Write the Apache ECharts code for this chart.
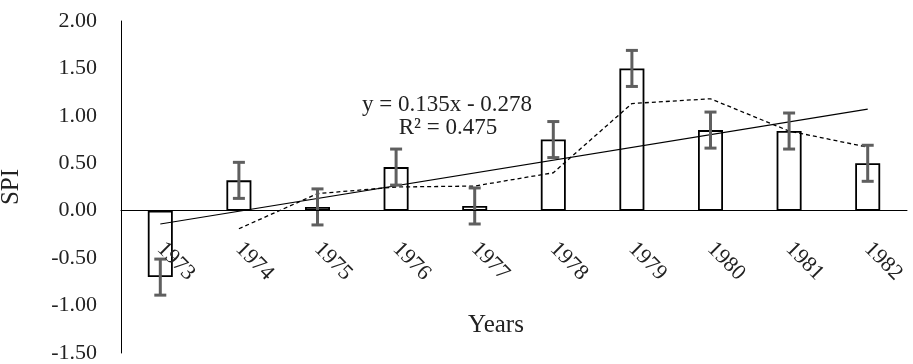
<!DOCTYPE html>
<html><head><meta charset="utf-8">
<script src="https://cdn.jsdelivr.net/npm/echarts@6/dist/echarts.min.js"></script>
<style>html,body{margin:0;padding:0;background:#fff}#c{width:913px;height:364px}</style>
</head><body><div id="c"></div>
<script>
var years = ['1973','1974','1975','1976','1977','1978','1979','1980','1981','1982'];
var spi = [-0.70, 0.32, 0.04, 0.46, 0.05, 0.75, 1.50, 0.85, 0.84, 0.50];
var errors = [0.19, 0.19, 0.19, 0.19, 0.19, 0.19, 0.19, 0.19, 0.19, 0.19];
var movingAvg = [null, -0.19, 0.18, 0.25, 0.26, 0.40, 1.13, 1.18, 0.84, 0.67];
var trendStart = -0.14, trendEnd = 1.07;
var yTicks = {min: -1.5, max: 2.0, interval: 0.5};
var eqText = 'y = 0.135x - 0.278';
var r2Text = 'R² = 0.475';

var FONT = '"Liberation Serif", "DejaVu Serif", serif';
var GRID = {left: 121, right: 6, top: 21, bottom: 11};
var H = 364;
var chart = echarts.init(document.getElementById('c'));
var errData = years.map(function(y, i){ return [i, spi[i] - errors[i], spi[i] + errors[i]]; });
// move the category axis (line + labels) up to the zero value
var plotH = H - GRID.top - GRID.bottom;
var zeroOffset = -plotH * (0 - yTicks.min) / (yTicks.max - yTicks.min);

chart.setOption({
  animation: false,
  backgroundColor: '#fff',
  grid: {left: GRID.left, right: GRID.right, top: GRID.top, bottom: GRID.bottom, containLabel: false, outerBoundsMode: 'none'},
  xAxis: {
    type: 'category', data: years, boundaryGap: true, offset: zeroOffset, z: 10,
    axisLine: {onZero: false, lineStyle: {color: '#000', width: 1}},
    axisTick: {show: false},
    axisLabel: {rotate: -45, margin: 35, fontFamily: FONT, fontSize: 22, color: '#222'},
    splitLine: {show: false}
  },
  yAxis: {
    type: 'value', min: yTicks.min, max: yTicks.max, interval: yTicks.interval,
    name: 'SPI', nameLocation: 'middle', nameGap: 97, nameRotate: 90,
    nameTextStyle: {fontFamily: FONT, fontSize: 25, color: '#222'},
    axisLine: {show: true, lineStyle: {color: '#000', width: 1}},
    axisTick: {show: false},
    splitLine: {show: false},
    axisLabel: {margin: 24, fontFamily: FONT, fontSize: 22, color: '#222',
      formatter: function(v){ return v.toFixed(2); }}
  },
  graphic: [
    {type: 'text', x: 447, y: 105, style: {text: eqText, textAlign: 'center', textVerticalAlign: 'middle', font: '23px ' + FONT, fill: '#222'}},
    {type: 'text', x: 448, y: 128, style: {text: r2Text, textAlign: 'center', textVerticalAlign: 'middle', font: '23px ' + FONT, fill: '#222'}},
    {type: 'text', x: 496, y: 325, style: {text: 'Years', textAlign: 'center', textVerticalAlign: 'middle', font: '25px ' + FONT, fill: '#222'}}
  ],
  series: [
    {type: 'bar', data: spi, barWidth: 25, z: 2,
     itemStyle: {color: '#fff', borderColor: '#000', borderWidth: 1.8}},
    {type: 'custom', z: 5, data: errData,
     renderItem: function(params, api){
       var lo = api.coord([api.value(0), api.value(1)]);
       var hi = api.coord([api.value(0), api.value(2)]);
       var cw = 6;
       var st = {stroke: '#5f5f5f', lineWidth: 3};
       return {type: 'group', children: [
         {type: 'line', shape: {x1: lo[0], y1: lo[1], x2: hi[0], y2: hi[1]}, style: st},
         {type: 'line', shape: {x1: lo[0]-cw, y1: lo[1], x2: lo[0]+cw, y2: lo[1]}, style: st},
         {type: 'line', shape: {x1: hi[0]-cw, y1: hi[1], x2: hi[0]+cw, y2: hi[1]}, style: st}
       ]};
     }},
    {type: 'line', data: movingAvg, z: 4, symbol: 'none', connectNulls: false,
     lineStyle: {color: '#000', width: 1.3, type: [4, 3]}},
    {type: 'line', data: [[years[0], trendStart], [years[years.length-1], trendEnd]], z: 4, symbol: 'none',
     lineStyle: {color: '#000', width: 1.2}}
  ]
});
</script></body></html>
